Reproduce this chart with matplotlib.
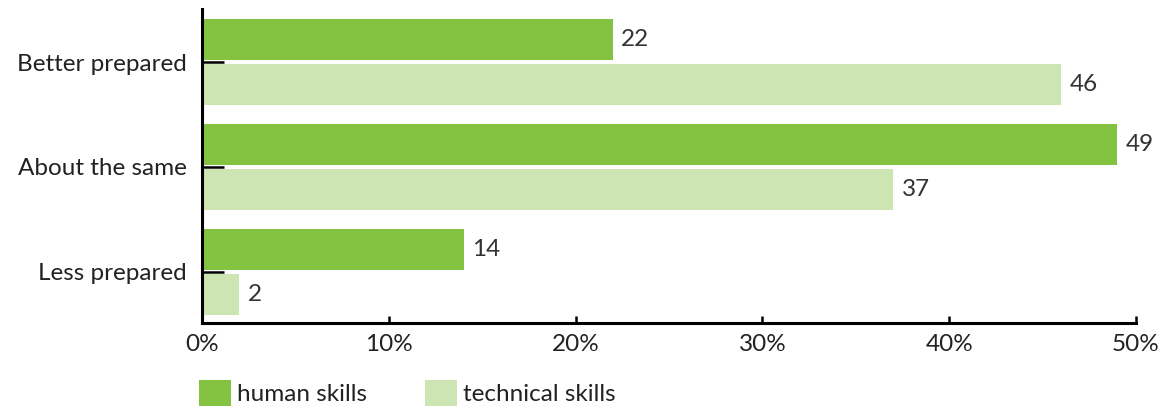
import numpy as np
import matplotlib.pyplot as plt

# --- data ---
categories = ['Better prepared', 'About the same', 'Less prepared']
human_skills = [22, 49, 14]
technical_skills = [46, 37, 2]
series_names = ['human skills', 'technical skills']
x_ticks = [0, 10, 20, 30, 40, 50]

green_dark = '#84c341'
green_light = '#cde4b3'
text_col = '#222222'

plt.rcParams['font.family'] = ['Lato', 'DejaVu Sans']
fs = 17.5

fig = plt.figure(figsize=(11.62, 4.12), dpi=100)
ax = fig.add_axes([202 / 1162, 1 - 323 / 412, 934 / 1162, 314 / 412])

y = np.arange(len(categories))
h = 0.39
off = 0.214
b1 = ax.barh(y - off, human_skills, height=h, color=green_dark, label=series_names[0])
b2 = ax.barh(y + off, technical_skills, height=h, color=green_light, label=series_names[1])

for bars, vals in [(b1, human_skills), (b2, technical_skills)]:
    for bar, v in zip(bars, vals):
        ax.text(bar.get_width() + 0.45, bar.get_y() + bar.get_height() / 2, str(v),
                va='center', ha='left', fontsize=fs, color='#333333')

ax.set_xlim(0, 50)
ax.set_ylim(2.486, -0.505)
ax.set_xticks(x_ticks)
ax.set_xticklabels([f'{t}%' for t in x_ticks])
ax.set_yticks(y)
ax.set_yticklabels(categories)

for s in ['top', 'right']:
    ax.spines[s].set_visible(False)
for s in ['left', 'bottom']:
    ax.spines[s].set_linewidth(2.2)
ax.tick_params(axis='y', direction='in', length=16, width=1.8, pad=11,
               labelsize=fs, labelcolor=text_col)
ax.tick_params(axis='x', direction='in', length=5, width=1.8, pad=8,
               labelsize=fs, labelcolor=text_col)

fig.legend(handles=[b1, b2], loc='upper left', bbox_to_anchor=(199 / 1162, 1 - 380 / 412),
           ncol=2, frameon=False, fontsize=fs, handlelength=1.3, handleheight=1.3,
           handletextpad=0.25, columnspacing=2.4, borderpad=0, borderaxespad=0,
           labelcolor=text_col)

fig.savefig('out.png', dpi=100)
